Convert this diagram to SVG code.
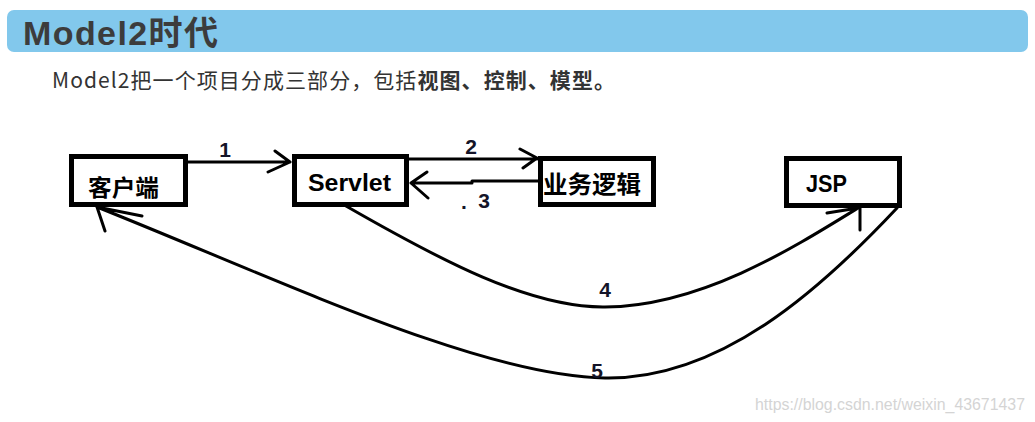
<svg xmlns="http://www.w3.org/2000/svg" width="1035" height="422" viewBox="0 0 1035 422">
<style>
.box{fill:#fff;stroke:#000;stroke-width:5}
.lbl{font-family:"Liberation Sans","Noto Sans CJK SC",sans-serif;font-weight:bold;fill:#000}
.num{font-family:"Liberation Sans",sans-serif;font-weight:bold;font-size:21px;fill:#141428;text-anchor:middle}
.con{fill:none;stroke:#000;stroke-width:3;stroke-linecap:round;stroke-linejoin:round}
</style>
<rect width="1035" height="422" fill="#fff"/>
<g id="header">
<rect x="7" y="10" width="1021" height="42" rx="7" fill="#82C8EC"/>
<text x="23" y="45" font-family="'Liberation Sans','Noto Sans CJK SC',sans-serif" font-weight="bold" font-size="34" fill="#3c3c3c" textLength="195" lengthAdjust="spacing">Model2时代</text>
</g>
<g id="subtitle">
<text x="52" y="88" font-family="'Noto Sans CJK SC',sans-serif" font-size="21" fill="#333" textLength="563" lengthAdjust="spacing">Model2把一个项目分成三部分，包括<tspan font-weight="bold">视图、控制、模型。</tspan></text>
</g>
<g id="node-client">
<rect class="box" x="71.5" y="156.5" width="114" height="48"/>
<text class="lbl" x="88" y="196" font-size="23" textLength="71" lengthAdjust="spacingAndGlyphs">客户端</text>
</g>
<g id="node-servlet">
<rect class="box" x="294.5" y="156.5" width="112" height="48"/>
<text class="lbl" x="308" y="191" font-size="24" textLength="83" lengthAdjust="spacingAndGlyphs">Servlet</text>
</g>
<g id="node-logic">
<rect class="box" x="540.5" y="158.5" width="113" height="46"/>
<text class="lbl" x="543" y="193" font-size="24" textLength="98" lengthAdjust="spacingAndGlyphs">业务逻辑</text>
</g>
<g id="node-jsp">
<rect class="box" x="786.5" y="158.5" width="113" height="47"/>
<text class="lbl" x="806" y="192" font-size="24" textLength="41" lengthAdjust="spacingAndGlyphs">JSP</text>
</g>
<g id="connectors">
<path class="con" d="M188,162 L290,162 M275,151 L290,162 L268,172"/>
<path class="con" d="M409,159 L537,159 M520,149 L537,158 L523,168"/>
<path class="con" d="M538,181 L472,181 L472,183 L411,183 M427,172 L411,183 L428,198"/>
<path class="con" d="M346,206 C440,260 530,308 605,307 C700,306 790,250 858,208 M827,213 L858,208 M860,208 L860,230"/>
<path class="con" d="M897,208 C820,290 720,380 605,378 C480,376 280,280 97,207 M142,216 L97,207 L105,231"/>
<text class="num" x="225" y="157">1</text>
<text class="num" x="471" y="154">2</text>
<text class="num" x="464" y="209">.</text>
<text class="num" x="484" y="208">3</text>
<text class="num" x="605" y="297">4</text>
<text class="num" x="597" y="378">5</text>
</g>
<text x="755" y="410" font-family="'Liberation Sans',sans-serif" font-size="15.9" fill="#d4d4d4" textLength="270" lengthAdjust="spacingAndGlyphs">https://blog.csdn.net/weixin_43671437</text>
</svg>
